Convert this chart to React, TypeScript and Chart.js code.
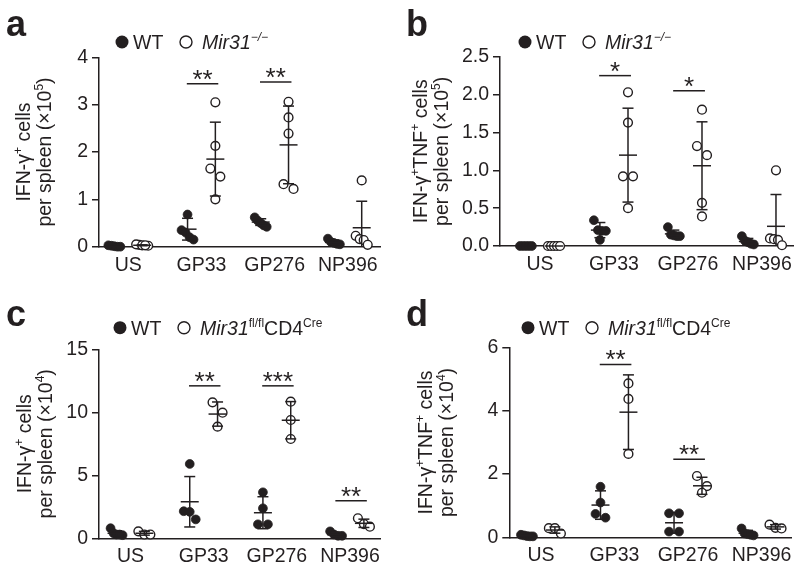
import React, { useEffect, useRef } from "react";
import { Chart, registerables } from "chart.js";
Chart.register(...registerables);

const INK = "#231f20";
const FAMILY = '"Liberation Sans", Arial, Helvetica, sans-serif';

const categories = ["US", "GP33", "GP276", "NP396"];

// ---------- Panel a: IFN-γ+ cells per spleen (×10^5), WT vs Mir31-/- ----------
const aYTicks = [0, 1, 2, 3, 4];
const aYTickLabels = ["0", "1", "2", "3", "4"];
const aWT = [
  [0.01, 0, 0, 0.02, 0.03],
  [0.68, 0.35, 0.3, 0.2, 0.15],
  [0.62, 0.55, 0.5, 0.45, 0.42],
  [0.17, 0.1, 0.08, 0.06, 0.05],
];
const aKO = [
  [0.04, 0.05, 0.02, 0.03, 0.03],
  [3.05, 2.13, 1.65, 1.48, 1.0],
  [3.06, 2.73, 2.39, 1.32, 1.22],
  [1.4, 0.23, 0.16, 0.14, 0.04],
];
const aWTMean = [0.01, 0.37, 0.52, 0.09];
const aWTSD = [0.01, 0.23, 0.07, 0.05];
const aKOMean = [0.03, 1.85, 2.15, 0.4];
const aKOSD = [0.01, 0.78, 0.82, 0.56];
const aSigCat = [1, 2];
const aSigY = [3.44, 3.48];
const aSigText = ["**", "**"];

// ---------- Panel b: IFN-γ+TNF+ cells per spleen (×10^5) ----------
const bYTicks = [0, 0.5, 1, 1.5, 2, 2.5];
const bYTickLabels = ["0.0", "0.5", "1.0", "1.5", "2.0", "2.5"];
const bWT = [
  [0, 0, 0, 0, 0],
  [0.34, 0.21, 0.2, 0.2, 0.08],
  [0.25, 0.15, 0.14, 0.13, 0.13],
  [0.13, 0.07, 0.05, 0.03, 0.02],
];
const bKO = [
  [0, 0, 0, 0, 0],
  [2.03, 1.63, 0.92, 0.92, 0.5],
  [1.8, 1.32, 1.2, 0.57, 0.39],
  [1.0, 0.1, 0.09, 0.08, 0.01],
];
const bWTMean = [0, 0.21, 0.16, 0.06];
const bWTSD = [0, 0.1, 0.05, 0.04];
const bKOMean = [0, 1.2, 1.06, 0.26];
const bKOSD = [0, 0.62, 0.58, 0.42];
const bSigCat = [1, 2];
const bSigY = [2.25, 2.05];
const bSigText = ["*", "*"];

// ---------- Panel c: IFN-γ+ cells per spleen (×10^4), WT vs Mir31fl/fl CD4Cre ----------
const cYTicks = [0, 5, 10, 15];
const cYTickLabels = ["0", "5", "10", "15"];
const cWT = [
  [0.8, 0.4, 0.3, 0.25, 0.3],
  [5.9, 2.15, 2.1, 1.5],
  [3.65, 2.38, 1.11, 1.11],
  [0.55, 0.3, 0.2, 0.2],
];
const cKO = [
  [0.55, 0.3, 0.3],
  [10.79, 9.97, 8.86],
  [10.84, 9.39, 7.88],
  [1.59, 1.13, 0.92],
];
const cWTMean = [0.4, 2.9, 2.03, 0.3];
const cWTSD = [0.2, 2.0, 1.27, 0.16];
const cKOMean = [0.4, 9.86, 9.37, 1.19];
const cKOSD = [0.15, 0.96, 1.48, 0.33];
const cSigCat = [1, 2, 3];
const cSigY = [12.1, 12.1, 2.98];
const cSigText = ["**", "***", "**"];

// ---------- Panel d: IFN-γ+TNF+ cells per spleen (×10^4) ----------
const dYTicks = [0, 2, 4, 6];
const dYTickLabels = ["0", "2", "4", "6"];
const dWT = [
  [0.08, 0.06, 0.04, 0.03, 0.03],
  [1.6, 1.1, 0.74, 0.62],
  [0.76, 0.76, 0.18, 0.18],
  [0.28, 0.12, 0.1, 0.08, 0.06],
];
const dKO = [
  [0.29, 0.29, 0.12],
  [4.87, 4.38, 2.64],
  [1.94, 1.62, 1.41],
  [0.4, 0.3, 0.28],
];
const dWTMean = [0.05, 1.02, 0.46, 0.13];
const dWTSD = [0.02, 0.45, 0.33, 0.09];
const dKOMean = [0.23, 3.96, 1.63, 0.33];
const dKOSD = [0.1, 1.18, 0.27, 0.07];
const dSigCat = [1, 2];
const dSigY = [5.47, 2.47];
const dSigText = ["**", "**"];

type Seg = { t: string; sup?: boolean; it?: boolean };

const titleIFN: Seg[] = [{ t: "IFN-γ" }, { t: "+", sup: true }, { t: " cells" }];
const titleIFNTNF: Seg[] = [
  { t: "IFN-γ" },
  { t: "+", sup: true },
  { t: "TNF" },
  { t: "+", sup: true },
  { t: " cells" },
];
const titleSpleen5: Seg[] = [{ t: "per spleen (×10" }, { t: "5", sup: true }, { t: ")" }];
const titleSpleen4: Seg[] = [{ t: "per spleen (×10" }, { t: "4", sup: true }, { t: ")" }];
const legendKO: Seg[] = [{ t: "Mir31", it: true }, { t: "−/−", sup: true, it: true }];
const legendFl: Seg[] = [
  { t: "Mir31", it: true },
  { t: "fl/fl", sup: true },
  { t: "CD4" },
  { t: "Cre", sup: true },
];

type PanelCfg = {
  letter: string;
  box: { x: number; y: number; w: number; h: number };
  area: { left: number; right: number; top: number; bottom: number };
  xMin: number;
  xMax: number;
  yTicks: number[];
  yTickLabels: string[];
  wt: number[][];
  ko: number[][];
  wtMean: number[];
  wtSD: number[];
  koMean: number[];
  koSD: number[];
  sigCat: number[];
  sigY: number[];
  sigText: string[];
  title1: Seg[];
  title2: Seg[];
  titleX: [number, number];
  legend: Seg[];
  legendPos: [number, number];
};

const panels: PanelCfg[] = [
  {
    letter: "a",
    box: { x: 0, y: 0, w: 400, h: 290 },
    area: { left: 99, right: 380, top: 57.3, bottom: 246.7 },
    xMin: -0.4,
    xMax: 3.44,
    yTicks: aYTicks,
    yTickLabels: aYTickLabels,
    wt: aWT,
    ko: aKO,
    wtMean: aWTMean,
    wtSD: aWTSD,
    koMean: aKOMean,
    koSD: aKOSD,
    sigCat: aSigCat,
    sigY: aSigY,
    sigText: aSigText,
    title1: titleIFN,
    title2: titleSpleen5,
    titleX: [30, 51],
    legend: legendKO,
    legendPos: [122, 42],
  },
  {
    letter: "b",
    box: { x: 400, y: 0, w: 400, h: 290 },
    area: { left: 100, right: 393, top: 56.7, bottom: 246 },
    xMin: -0.54,
    xMax: 3.42,
    yTicks: bYTicks,
    yTickLabels: bYTickLabels,
    wt: bWT,
    ko: bKO,
    wtMean: bWTMean,
    wtSD: bWTSD,
    koMean: bKOMean,
    koSD: bKOSD,
    sigCat: bSigCat,
    sigY: bSigY,
    sigText: bSigText,
    title1: titleIFNTNF,
    title2: titleSpleen5,
    titleX: [27, 48],
    legend: legendKO,
    legendPos: [125, 42],
  },
  {
    letter: "c",
    box: { x: 0, y: 290, w: 400, h: 283 },
    area: { left: 99, right: 380, top: 59.3, bottom: 248.3 },
    xMin: -0.43,
    xMax: 3.41,
    yTicks: cYTicks,
    yTickLabels: cYTickLabels,
    wt: cWT,
    ko: cKO,
    wtMean: cWTMean,
    wtSD: cWTSD,
    koMean: cKOMean,
    koSD: cKOSD,
    sigCat: cSigCat,
    sigY: cSigY,
    sigText: cSigText,
    title1: titleIFN,
    title2: titleSpleen4,
    titleX: [31, 52],
    legend: legendFl,
    legendPos: [120, 37.7],
  },
  {
    letter: "d",
    box: { x: 400, y: 290, w: 400, h: 283 },
    area: { left: 109.3, right: 391.7, top: 57.7, bottom: 247.3 },
    xMin: -0.43,
    xMax: 3.41,
    yTicks: dYTicks,
    yTickLabels: dYTickLabels,
    wt: dWT,
    ko: dKO,
    wtMean: dWTMean,
    wtSD: dWTSD,
    koMean: dKOMean,
    koSD: dKOSD,
    sigCat: dSigCat,
    sigY: dSigY,
    sigText: dSigText,
    title1: titleIFNTNF,
    title2: titleSpleen4,
    titleX: [32, 53],
    legend: legendFl,
    legendPos: [128, 37.7],
  },
];

const OFF = 0.19;

function swarm(vals: number[], center: number, pxPerY: number, pxPerX: number) {
  const idx = vals.map((_, i) => i).sort((a, b) => vals[b] - vals[a]);
  const out: { x: number; y: number }[] = new Array(vals.length);
  let i = 0;
  while (i < idx.length) {
    const row = [idx[i]];
    let j = i + 1;
    while (j < idx.length && (vals[idx[i]] - vals[idx[j]]) * pxPerY < 11) {
      row.push(idx[j]);
      j++;
    }
    const k = row.length;
    const sp = k > 1 ? Math.min(10, 12 / (k - 1)) : 0;
    row.forEach((id, r) => {
      out[id] = { x: center + ((r - (k - 1) / 2) * sp) / pxPerX, y: vals[id] };
    });
    i = j;
  }
  return out;
}

function segFont(s: Seg, size: number) {
  const sz = s.sup ? Math.round(size * 0.62) : size;
  return `${s.it ? "italic " : ""}${sz}px ${FAMILY}`;
}

function drawRich(
  ctx: CanvasRenderingContext2D,
  segs: Seg[],
  x: number,
  y: number,
  size: number,
  align: "left" | "center"
) {
  ctx.textAlign = "left";
  ctx.textBaseline = "alphabetic";
  let w = 0;
  for (const s of segs) {
    ctx.font = segFont(s, size);
    w += ctx.measureText(s.t).width;
  }
  let cx = align === "center" ? x - w / 2 : x;
  for (const s of segs) {
    ctx.font = segFont(s, size);
    ctx.fillText(s.t, cx, s.sup ? y - size * 0.42 : y);
    cx += ctx.measureText(s.t).width;
  }
}

function overlayPlugin(cfg: PanelCfg) {
  return {
    id: "overlay",
    afterDatasetsDraw(chart: any) {
      const ctx: CanvasRenderingContext2D = chart.ctx;
      const xs = chart.scales.x;
      const ys = chart.scales.y;
      ctx.save();
      ctx.strokeStyle = INK;
      ctx.fillStyle = INK;
      ctx.lineWidth = 1.5;
      const seg = (x1: number, y1: number, x2: number, y2: number) => {
        ctx.beginPath();
        ctx.moveTo(x1, y1);
        ctx.lineTo(x2, y2);
        ctx.stroke();
      };
      const bars = (means: number[], sds: number[], off: number) =>
        means.forEach((m, i) => {
          const x = xs.getPixelForValue(i + off);
          const ym = ys.getPixelForValue(m);
          if (sds[i] > 0) {
            const yt = ys.getPixelForValue(m + sds[i]);
            const lo = m - sds[i];
            const yb = ys.getPixelForValue(Math.max(lo, 0));
            seg(x, yt, x, yb);
            seg(x - 5.5, yt, x + 5.5, yt);
            if (lo > 0) seg(x - 5.5, yb, x + 5.5, yb);
          }
          seg(x - 9, ym, x + 9, ym);
        });
      bars(cfg.wtMean, cfg.wtSD, -OFF);
      bars(cfg.koMean, cfg.koSD, OFF);
      cfg.sigCat.forEach((c, i) => {
        const y = ys.getPixelForValue(cfg.sigY[i]);
        const x1 = xs.getPixelForValue(c - 0.2);
        const x2 = xs.getPixelForValue(c + 0.23);
        seg(x1, y, x2, y);
        ctx.font = `26px ${FAMILY}`;
        ctx.textAlign = "center";
        ctx.textBaseline = "alphabetic";
        ctx.fillText(cfg.sigText[i], (x1 + x2) / 2, y + 4);
      });
      ctx.restore();
    },
    afterDraw(chart: any) {
      const ctx: CanvasRenderingContext2D = chart.ctx;
      const ca = chart.chartArea;
      ctx.save();
      ctx.fillStyle = INK;
      ctx.strokeStyle = INK;
      // legend
      const [lx, ly] = cfg.legendPos;
      ctx.beginPath();
      ctx.arc(lx, ly, 6.5, 0, Math.PI * 2);
      ctx.fill();
      drawRich(ctx, [{ t: "WT" }], lx + 11, ly + 7, 19.5, "left");
      ctx.beginPath();
      ctx.lineWidth = 1.4;
      ctx.arc(lx + 64, ly, 6, 0, Math.PI * 2);
      ctx.stroke();
      drawRich(ctx, cfg.legend, lx + 80, ly + 7, 19.5, "left");
      // y-axis title
      const cy = (ca.top + ca.bottom) / 2;
      [cfg.title1, cfg.title2].forEach((segs, k) => {
        ctx.save();
        ctx.translate(cfg.titleX[k], cy);
        ctx.rotate(-Math.PI / 2);
        drawRich(ctx, segs, 0, 0, 19.5, "center");
        ctx.restore();
      });
      // panel letter
      ctx.font = `bold 36px ${FAMILY}`;
      ctx.textAlign = "left";
      ctx.textBaseline = "alphabetic";
      ctx.fillText(cfg.letter, 6, 36);
      ctx.restore();
    },
  };
}

function Panel({ cfg }: { cfg: PanelCfg }) {
  const ref = useRef<HTMLCanvasElement>(null);
  useEffect(() => {
    if (!ref.current) return;
    const { area, box } = cfg;
    const yMax = cfg.yTicks[cfg.yTicks.length - 1];
    const pxPerY = (area.bottom - area.top) / yMax;
    const pxPerX = (area.right - area.left) / (cfg.xMax - cfg.xMin);
    const wtPts = cfg.wt.flatMap((vals, i) => swarm(vals, i - OFF, pxPerY, pxPerX));
    const koPts = cfg.ko.flatMap((vals, i) => swarm(vals, i + OFF, pxPerY, pxPerX));
    const tickFont = { family: FAMILY, size: 19.5 };
    const chart = new Chart(ref.current, {
      type: "scatter",
      data: {
        datasets: [
          {
            data: wtPts,
            pointRadius: 4.4,
            pointHoverRadius: 4.4,
            pointBackgroundColor: INK,
            pointBorderColor: INK,
            pointBorderWidth: 0.8,
            clip: false as any,
          },
          {
            data: koPts,
            pointRadius: 4.4,
            pointHoverRadius: 4.4,
            pointBackgroundColor: "#ffffff",
            pointBorderColor: INK,
            pointBorderWidth: 1.4,
            clip: false as any,
          },
        ],
      },
      options: {
        animation: false,
        responsive: false,
        devicePixelRatio: 1,
        events: [],
        layout: { padding: { left: 0, top: area.top, right: box.w - area.right, bottom: 0 } },
        plugins: { legend: { display: false }, tooltip: { enabled: false } },
        scales: {
          x: {
            type: "linear",
            min: cfg.xMin,
            max: cfg.xMax,
            afterBuildTicks: (s: any) => {
              s.ticks = categories.map((_, i) => ({ value: i }));
            },
            afterFit: (s: any) => {
              s.height = box.h - area.bottom;
            },
            ticks: {
              callback: (_v: any, i: number) => categories[i],
              font: tickFont,
              color: INK,
              padding: 7,
              maxRotation: 0,
              autoSkip: false,
            },
            grid: { display: false, drawTicks: false },
            border: { display: true, color: INK, width: 1.5 },
          },
          y: {
            type: "linear",
            min: 0,
            max: yMax,
            afterBuildTicks: (s: any) => {
              s.ticks = cfg.yTicks.map((v) => ({ value: v }));
            },
            afterFit: (s: any) => {
              s.width = area.left;
            },
            ticks: {
              callback: (_v: any, i: number) => cfg.yTickLabels[i],
              font: tickFont,
              color: INK,
              padding: 4,
            },
            grid: {
              display: true,
              drawOnChartArea: false,
              drawTicks: true,
              tickLength: 7,
              color: INK,
              lineWidth: 1.5,
            },
            border: { display: true, color: INK, width: 1.5 },
          },
        },
      } as any,
      plugins: [overlayPlugin(cfg)],
    });
    return () => chart.destroy();
  }, [cfg]);
  return (
    <div style={{ position: "absolute", left: cfg.box.x, top: cfg.box.y, width: cfg.box.w, height: cfg.box.h }}>
      <canvas ref={ref} width={cfg.box.w} height={cfg.box.h} style={{ display: "block" }} />
    </div>
  );
}

export default function App() {
  return (
    <div style={{ position: "fixed", left: 0, top: 0, width: 800, height: 573, background: "#fff" }}>
      {panels.map((p) => (
        <Panel key={p.letter} cfg={p} />
      ))}
    </div>
  );
}
